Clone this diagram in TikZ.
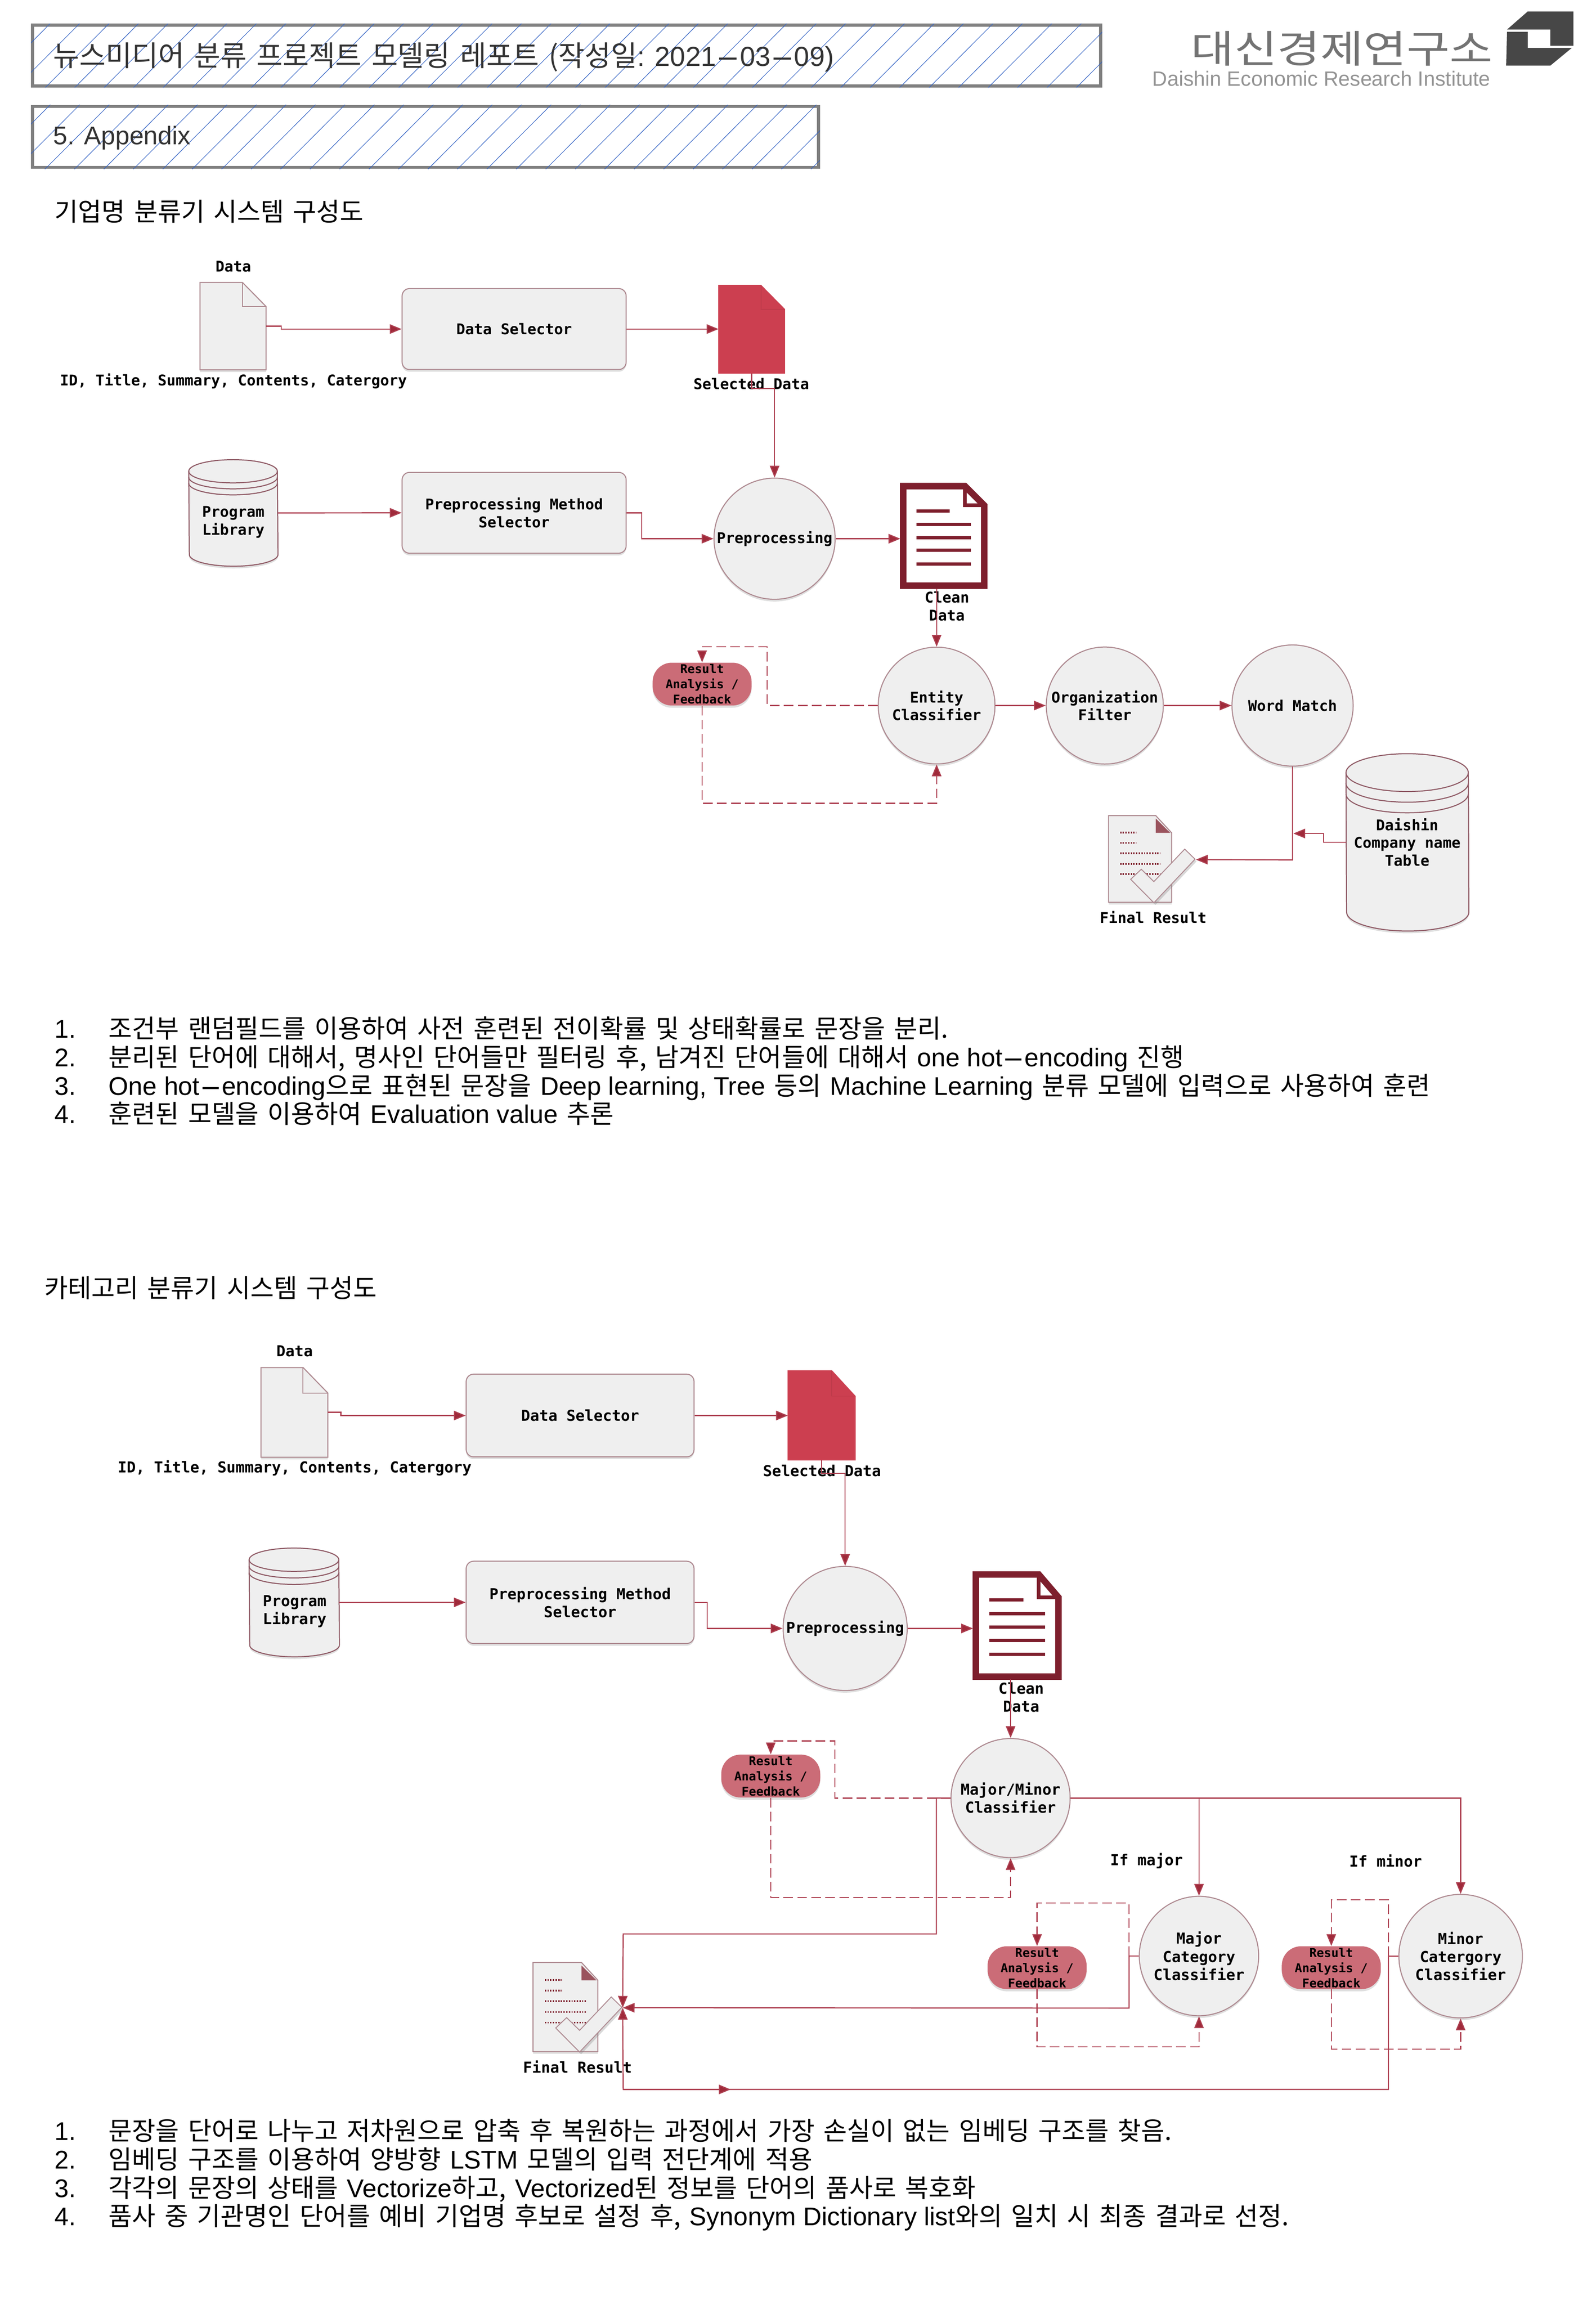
\documentclass[tikz,border=0pt]{standalone}
\usepackage{fontspec}
\setmainfont{Noto Sans CJK KR}[WordSpace=1.55]
\newfontfamily\latfont{Liberation Sans}
\newfontfamily\diagfont{DejaVu Sans Mono}
\usetikzlibrary{positioning, arrows.meta, shadows}

\definecolor{flowred}{HTML}{AD3F50}
\definecolor{headred}{HTML}{9F2A3A}
\definecolor{pagegray}{HTML}{EFEFEF}
\definecolor{strokegray}{HTML}{AE8A91}
\definecolor{cylstroke}{HTML}{8F5A65}
\definecolor{darkred}{HTML}{7E1F2D}
\definecolor{pagered}{HTML}{CC3F50}
\definecolor{pillred}{HTML}{CB6C77}
\definecolor{hatchblue}{HTML}{3564C4}

\newcommand{\diagsize}{\fontsize{10}{12}\selectfont}
\newcommand{\lat}[1]{{\latfont\fontsize{17.3}{19}\selectfont #1}}
\newcommand{\widedash}{\scalebox{2.6}[1]{-}}
\newcommand{\listrow}[3]{\node[listline] (#1) at (37,#2) {#3};}

% page with a folded corner, outline on the node's box
\newcommand{\foldedpage}[4][pageline]{
  \draw[#1] (#2.north west) -- ([xshift=-#3pt]#2.north east) -- ([yshift=-#4pt]#2.north east)
    -- (#2.south east) -- (#2.south west) -- cycle;
  \draw[#1 fold] ([xshift=-#3pt]#2.north east) -- ([xshift=-#3pt,yshift=-#4pt]#2.north east)
    -- ([yshift=-#4pt]#2.north east);
}
% text bars of the clean data page
\newcommand{\pagebars}[2]{
  \begin{scope}[shift={(#1.north west)}, scale=#2]
    \draw[pagebar] (9,16.8) -- (31.6,16.8);
    \foreach \by in {25.8,34.8,43.5,52.6}
      \draw[pagebar] (9,\by) -- (45.8,\by);
  \end{scope}
}
% cylinder on the node's box: name, x radius, y radius, rim gap
\newcommand{\cylbody}[4]{
  \draw[cylline, drop shadow={opacity=.25, shadow xshift=0pt, shadow yshift=-1.5pt}]
    ([yshift=-#3pt]#1.north west) arc[start angle=180, end angle=0, x radius=#2pt, y radius=#3pt]
    -- ([yshift=#3pt]#1.south east) arc[start angle=0, end angle=-180, x radius=#2pt, y radius=#3pt] -- cycle;
  \foreach \rim in {0,1,2}
    \draw[cylrim] ([yshift={-(#3+\rim*#4)*1pt}]#1.north west)
      arc[start angle=180, end angle=360, x radius=#2pt, y radius=#3pt];
}
% final result page with a tick, tip coordinate is #1tip
\newcommand{\finalpage}[2]{
  \begin{scope}[shift={(#1.north west)}, scale=#2]
    \draw[pageline] (0,0) -- (32.9,0) -- (44,12) -- (44,60.3) -- (0,60.3) -- cycle;
    \fill[darkred, opacity=.75] (32.9,2) -- (43,12) -- (32.9,12) -- cycle;
    \foreach \by in {11.8,19}
      \draw[textbar] (8,\by) -- (19.3,\by);
    \foreach \by in {26.2,33.5,40.7}
      \draw[textbar] (8,\by) -- (36.2,\by);
    \draw[tickline] (53.1,23.3) -- (60.3,30.3) -- (31.6,60.6) -- (15.4,44.3)
      -- (22.8,37.3) -- (31.6,45.9) -- cycle;
    \coordinate (#1tip) at (60.9,30.6);
  \end{scope}
}

\begin{document}
\begin{tikzpicture}[
    x=.997pt, y=-1pt,
    >=Triangle,
    titlebox/.style={
      rectangle, draw=gray, line width=2pt, anchor=north west, inner sep=0pt,
    },
    hatchline/.style={draw=hatchblue, line width=.35pt},
    banner/.style={anchor=west, inner sep=0pt, text=black!80, font=\fontsize{19.3}{22}\selectfont},
    heading/.style={anchor=west, inner sep=0pt, font=\fontsize{17.3}{20}\selectfont},
    listline/.style={anchor=base west, inner sep=0pt, font=\fontsize{17.3}{20}\selectfont},
    docbox/.style={rectangle, inner sep=0pt},
    pageline/.style={draw=strokegray, line width=.7pt, fill=pagegray,
      drop shadow={opacity=.25, shadow xshift=0pt, shadow yshift=-1.5pt}},
    pageline fold/.style={draw=strokegray, line width=.7pt},
    redline/.style={draw=pagered, line width=.5pt, fill=pagered},
    redline fold/.style={draw=pagered!93!black, line width=.5pt},
    darkline/.style={draw=darkred, line width=4.4pt, fill=white, miter limit=8},
    darkline fold/.style={draw=darkred, line width=2.6pt},
    pagebar/.style={draw=darkred, line width=2.2pt},
    textbar/.style={draw=darkred, line width=1.2pt, dash pattern=on .9pt off .9pt},
    tickline/.style={draw=strokegray, line width=.6pt, fill=pagegray,
      drop shadow={opacity=.3, shadow xshift=1pt, shadow yshift=-1.5pt}},
    cylline/.style={draw=cylstroke, line width=.7pt, fill=pagegray},
    cylrim/.style={draw=cylstroke, line width=.7pt},
    subblock/.style={
      rectangle, draw=strokegray, rounded corners=5pt, fill=pagegray, line width=.7pt,
      align=center, inner sep=0pt, font=\diagfont\diagsize\bfseries,
      drop shadow={opacity=.25, shadow xshift=0pt, shadow yshift=-1.5pt},
    },
    proc/.style={
      circle, draw=strokegray, fill=pagegray, line width=.7pt, align=center,
      inner sep=0pt, font=\diagfont\diagsize\bfseries,
      drop shadow={opacity=.25, shadow xshift=0pt, shadow yshift=-1.5pt},
    },
    pill/.style={
      rectangle, rounded corners=13pt, fill=pillred, align=center, inner sep=0pt,
      minimum width=67pt, minimum height=29pt,
      font=\diagfont\fontsize{8.2}{10.3}\selectfont\bfseries,
      drop shadow={opacity=.25, shadow xshift=0pt, shadow yshift=-1.5pt},
    },
    lab/.style={align=center, inner sep=0pt, font=\diagfont\diagsize\bfseries},
    flowline/.style={draw=flowred, line width=.75pt},
    flow/.style={flowline, -{Triangle[length=8pt,width=6.4pt,fill=headred]}},
    feedline/.style={draw=flowred, line width=.75pt, dash pattern=on 6.5pt off 3pt},
    feed/.style={feedline, -{Triangle[length=8pt,width=6.4pt,fill=headred]}},
  ]
  \useasboundingbox (0pt,0pt) rectangle (1080pt,-1560pt);

  % report header
  \node[titlebox, minimum width=723pt, minimum height=41.2pt] (titleframe) at (21,16) {};
  \begin{scope}
    \clip (titleframe.north west) rectangle (titleframe.south east);
    \foreach \hx in {-30,-10,...,750} \draw[hatchline] (\hx,60) -- (\hx+46,14);
  \end{scope}
  \node[banner] (title) at (36,38.6)
    {뉴스미디어 분류 프로젝트 모델링 레포트 (작성일{\latfont\fontsize{18.6}{22}\selectfont : 2021\widedash03\widedash09)}};
  \node[titlebox, minimum width=532pt, minimum height=41.2pt] (partframe) at (21,71) {};
  \begin{scope}
    \clip (partframe.north west) rectangle (partframe.south east);
    \foreach \hx in {-30,-10,...,560} \draw[hatchline] (\hx,115) -- (\hx+46,69);
  \end{scope}
  \node[banner, font=\latfont\fontsize{17.3}{20}\selectfont] (part) at (36,93.4) {5. Appendix};

  % logo
  \fill[black!72] (1037,7.8) -- (1068,7.8) -- (1068,31) -- (1052.4,31) -- (1052.4,20) -- (1023,20) -- cycle;
  \fill[black!72] (1023,21.6) -- (1037,21.6) -- (1037,32.4) -- (1067,32.4) -- (1052.4,44.4) -- (1022.4,44.4) -- cycle;
  \node[inner sep=0pt, text=black!55, font=\fontsize{31.7}{34}\selectfont] (logoname) at (911,33)
    {\scalebox{1}[.82]{대신경제연구소}};
  \node[inner sep=0pt, text=black!42, font=\latfont\fontsize{14}{16}\selectfont] (logosub) at (897,53.2)
    {Daishin Economic Research Institute};

  % first system
  \node[heading] (headone) at (37,143) {기업명 분류기 시스템 구성도};

  \node[docbox, minimum width=44.4pt, minimum height=58.7pt] (data) at (158.2,220.75) {};
  \foldedpage{data}{16}{16.3}
  \node[lab] (datalbl) at (158.4,180.2) {Data};
  \node[lab] (idlbl) at (158.5,257.9) {ID, Title, Summary, Contents, Catergory};
  \node[subblock, minimum width=151.6pt, minimum height=54.8pt] (sel) at (349,222.7) {Data Selector};
  \node[docbox, minimum width=44.4pt, minimum height=59.2pt] (seldoc) at (510.2,222.9) {};
  \foldedpage[redline]{seldoc}{16}{16.2}
  \node[lab] (sellbl) at (510,259.7) {Selected Data};

  \node[docbox, minimum width=60pt, minimum height=71.7pt] (lib) at (158.4,347.15) {};
  \cylbody{lib}{30}{7.85}{4.06}
  \node[lab] (liblbl) at (158.4,353.4) {Program\\Library};
  \node[subblock, minimum width=151.6pt, minimum height=54.7pt] (pms) at (349,347.05) {Preprocessing Method\\Selector};
  \node[proc, minimum size=82pt] (prep) at (525.8,364.6) {Preprocessing};
  \node[docbox, minimum width=54.4pt, minimum height=67pt] (clean) at (640.6,362.7) {};
  \foldedpage[darkline]{clean}{13}{13}
  \pagebars{clean}{1}
  \node[lab] (cleanlbl) at (642.8,410.3) {Clean\\Data};
  \coordinate (cleanin) at (611.2,364.6);
  \coordinate (cleanout) at (635.8,398.4);

  \node[proc, minimum size=79pt] (entity) at (635.8,477.5) {Entity\\Classifier};
  \node[proc, minimum size=79.2pt, right=34pt of entity] (orgf) {Organization\\Filter};
  \node[proc, minimum size=82pt] (wordm) at (877.4,477.5) {Word Match};
  \node[pill] (fbone) at (476.6,463) {Result\\Analysis /\\Feedback};
  \node[docbox, minimum width=82.8pt, minimum height=119.6pt] (table) at (955.4,570.1) {};
  \cylbody{table}{41.4}{12.8}{7.2}
  \node[lab] (tablelbl) at (955.2,570) {Daishin\\Company name\\Table};
  \node[docbox, minimum width=42.8pt, minimum height=58.8pt] (final) at (774.2,581.6) {};
  \finalpage{final}{.973}
  \node[lab] (finallbl) at (782.8,620.8) {Final Result};

  % arrows
  \draw[flow] (data.east) -- (190.8,220.75) -- (190.8,222.7) -- (sel.west);
  \draw[flow] (sel.east) -- (sel.east -| seldoc.west);
  \draw[flow] (seldoc.south) -- (510.2,263) -- (525.8,263) -- (prep.north);
  \draw[flow] (lib.east) -- (pms.west);
  \draw[flow] (pms.east) -- (435.6,347.05) -- (435.6,364.6) -- (prep.west);
  \draw[flow] (prep.east) -- (cleanin);
  \draw[flow] (cleanout) -- (entity.north);
  \draw[flow] (entity.east) -- (orgf.west);
  \draw[flow] (orgf.east) -- (wordm.west);
  \draw[feed] (entity.west) -- (520.8,477.5) -- (520.8,437.8) -- (476.6,437.8) -- (fbone.north);
  \draw[feed] (fbone.south) -- (476.6,543.6) -- (635.8,543.6) -- (entity.south);
  \draw[flow] (wordm.south) -- (877.4,582) -- (finaltip);
  \draw[flow] (table.west) -- (898.4,570.1) -- (898.4,564.1) -- (877.9,564.1);

  \listrow{stepa}{702.5}{\makebox[36.5pt][l]{\lat{1.}}조건부 랜덤필드를 이용하여 사전 훈련된 전이확률 및 상태확률로 문장을 분리.}
  \listrow{stepb}{721.8}{\makebox[36.5pt][l]{\lat{2.}}분리된 단어에 대해서, 명사인 단어들만 필터링 후, 남겨진 단어들에 대해서 \lat{one hot\widedash encoding} 진행}
  \listrow{stepc}{741}{\makebox[36.5pt][l]{\lat{3.}}\lat{One hot\widedash encoding}으로 표현된 문장을 \lat{Deep learning, Tree} 등의 \lat{Machine Learning} 분류 모델에 입력으로 사용하여 훈련}
  \listrow{stepd}{760.3}{\makebox[36.5pt][l]{\lat{4.}}훈련된 모델을 이용하여 \lat{Evaluation value} 추론}

  % second system
  \renewcommand{\diagsize}{\fontsize{10.2}{12.2}\selectfont}
  \node[heading] (headtwo) at (30,871.5) {카테고리 분류기 시스템 구성도};

  \node[docbox, minimum width=44.8pt, minimum height=60.3pt] (datab) at (199.9,955.85) {};
  \foldedpage{datab}{16.8}{17.3}
  \node[lab] (databl) at (200,914.5) {Data};
  \node[lab] (idblbl) at (200,993.6) {ID, Title, Summary, Contents, Catergory};
  \node[subblock, minimum width=154.2pt, minimum height=56pt] (selb) at (393.8,958) {Data Selector};
  \node[docbox, minimum width=45.2pt, minimum height=60.1pt] (seldocb) at (557.7,957.85) {};
  \foldedpage[redline]{seldocb}{15.9}{17.3}
  \node[lab] (selblbl) at (558,995.5) {Selected Data};

  \node[docbox, minimum width=60.7pt, minimum height=73.2pt] (libb) at (199.75,1084.5) {};
  \cylbody{libb}{30.35}{7.9}{4.4}
  \node[lab] (libblbl) at (200,1090.5) {Program\\Library};
  \node[subblock, minimum width=154.2pt, minimum height=55.7pt] (pmsb) at (393.8,1084.45) {Preprocessing Method\\Selector};
  \node[proc, minimum size=84pt] (prepb) at (573.7,1102.1) {Preprocessing};
  \node[docbox, minimum width=55.5pt, minimum height=68.7pt] (cleanb) at (690.45,1100.15) {};
  \foldedpage[darkline]{cleanb}{13.3}{15.5}
  \pagebars{cleanb}{1.025}
  \node[lab] (cleanblbl) at (693.2,1148.8) {Clean\\Data};
  \coordinate (cleanbin) at (660.5,1102.1);
  \coordinate (cleanbout) at (686,1136.7);

  \node[proc, minimum size=80.6pt] (majmin) at (686,1216.9) {Major/Minor\\Classifier};
  \node[proc, minimum size=80.8pt] (majcat) at (813.9,1323.8) {Major\\Category\\Classifier};
  \node[proc, minimum size=83.6pt] (mincat) at (991.5,1323.9) {Minor\\Catergory\\Classifier};
  \node[lab] (iflblmaj) at (778.3,1259.4) {If major};
  \node[lab] (iflblmin) at (940.6,1259.4) {If minor};
  \node[pill] (fbtwo) at (523.2,1202) {Result\\Analysis /\\Feedback};
  \node[pill] (fbthree) at (704,1331.7) {Result\\Analysis /\\Feedback};
  \node[pill] (fbfour) at (903.7,1331.7) {Result\\Analysis /\\Feedback};
  \node[docbox, minimum width=44pt, minimum height=60.3pt] (finalb) at (384.1,1358.55) {};
  \finalpage{finalb}{1}
  \node[lab] (finalblbl) at (392,1398.9) {Final Result};
  \coordinate (midtip) at (496,1414.1);

  % arrows
  \draw[flow] (datab.east) -- (231.4,955.85) -- (231.4,958) -- (selb.west);
  \draw[flow] (selb.east) -- (selb.east -| seldocb.west);
  \draw[flow] (seldocb.south) -- (557.7,997.1) -- (573.7,997.1) -- (prepb.north);
  \draw[flow] (libb.east) -- (pmsb.west);
  \draw[flow] (pmsb.east) -- (480,1084.45) -- (480,1102.1) -- (prepb.west);
  \draw[flow] (prepb.east) -- (cleanbin);
  \draw[flow] (cleanbout) -- (majmin.north);
  \draw[flow] (majmin.east) -- (813.9,1216.9) -- (majcat.north);
  \draw[flow] (majmin.east) -- (991.5,1216.9) -- (mincat.north);
  \draw[flow] (majmin.west) -- (635.6,1216.9) -- (635.6,1308.9) -- (423,1308.9) -- (finalbtip);
  \draw[flow] (majcat.west) -- (766.4,1323.8) -- (766.4,1359) -- (finalbtip);
  \draw[flow] (mincat.west) -- (942.5,1323.9) -- (942.5,1414.1) -- (423,1414.1) -- (finalbtip);
  \draw[flow] (423,1414.1) -- (midtip);
  \draw[feed] (majmin.west) -- (566.8,1216.9) -- (566.8,1178.2) -- (523.2,1178.2) -- (fbtwo.north);
  \draw[feed] (fbtwo.south) -- (523.2,1284.2) -- (686,1284.2) -- (majmin.south);
  \draw[feed] (766.4,1323.8) -- (766.4,1287.9) -- (704,1287.9) -- (fbthree.north);
  \draw[feed] (fbthree.south) -- (704,1385.3) -- (813.9,1385.3) -- (majcat.south);
  \draw[feed] (942.5,1323.9) -- (942.5,1285.8) -- (903.7,1285.8) -- (fbfour.north);
  \draw[feed] (fbfour.south) -- (903.7,1386.8) -- (991.5,1386.8) -- (mincat.south);

  \listrow{notea}{1448.5}{\makebox[36.5pt][l]{\lat{1.}}문장을 단어로 나누고 저차원으로 압축 후 복원하는 과정에서 가장 손실이 없는 임베딩 구조를 찾음.}
  \listrow{noteb}{1467.7}{\makebox[36.5pt][l]{\lat{2.}}임베딩 구조를 이용하여 양방향 \lat{LSTM} 모델의 입력 전단계에 적용}
  \listrow{notec}{1487}{\makebox[36.5pt][l]{\lat{3.}}각각의 문장의 상태를 \lat{Vectorize}하고, \lat{Vectorized}된 정보를 단어의 품사로 복호화}
  \listrow{noted}{1506.2}{\makebox[36.5pt][l]{\lat{4.}}품사 중 기관명인 단어를 예비 기업명 후보로 설정 후, \lat{Synonym Dictionary list}와의 일치 시 최종 결과로 선정.}
\end{tikzpicture}
\end{document}
